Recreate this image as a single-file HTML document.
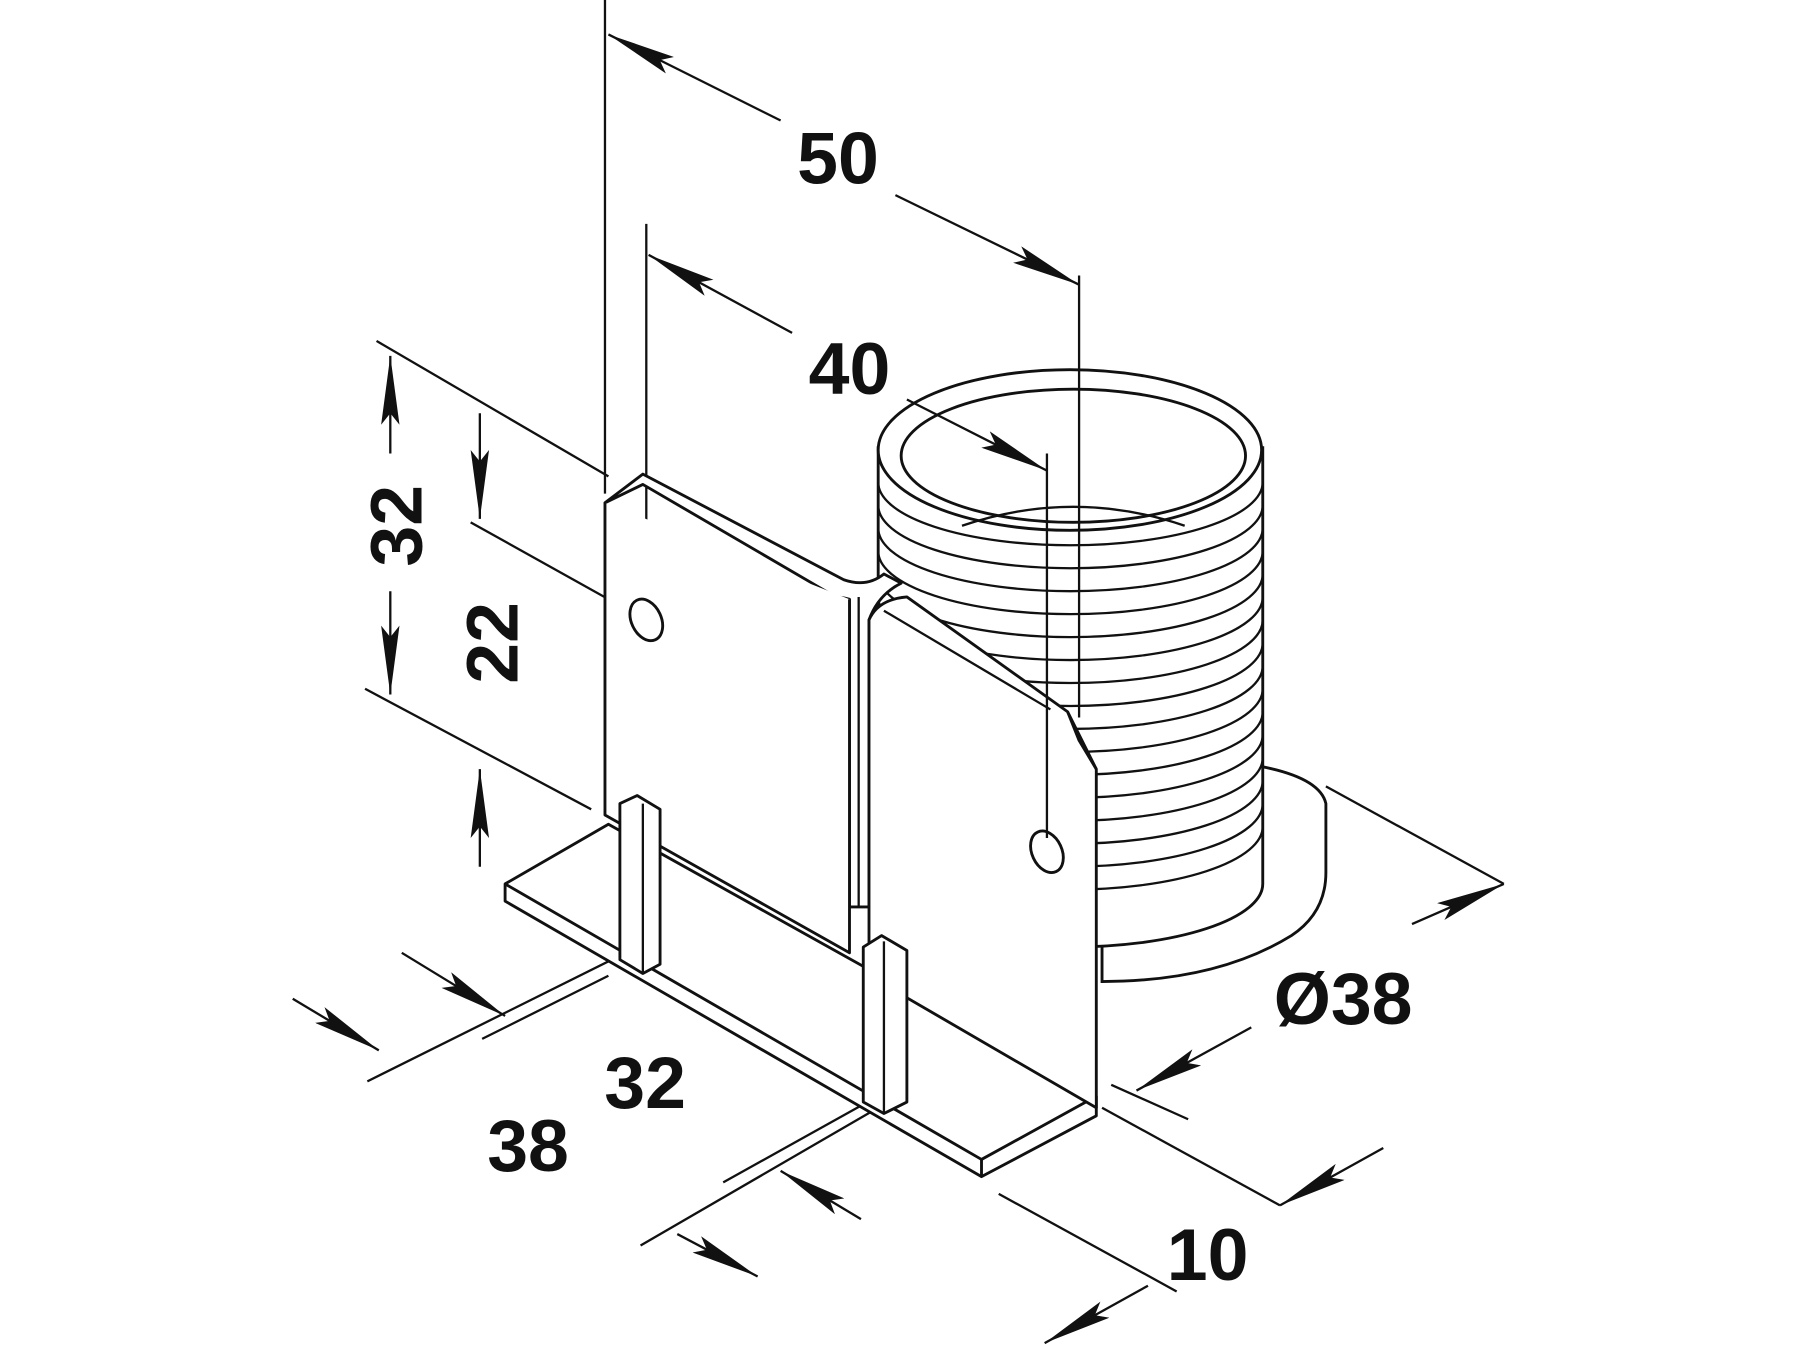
<!DOCTYPE html>
<html><head><meta charset="utf-8"><style>
html,body{margin:0;padding:0;background:#fff;}
svg{display:block;}
text{font-family:"Liberation Sans",sans-serif;font-weight:bold;fill:#111;}
</style></head><body>
<svg width="1800" height="1350" viewBox="0 0 1568 1176" preserveAspectRatio="none" xmlns="http://www.w3.org/2000/svg">
<defs>
<marker id="b" viewBox="0 0 60 16" refX="60" refY="8" markerWidth="60" markerHeight="16" markerUnits="userSpaceOnUse" orient="auto"><path d="M0,0 L60,8 L0,16 L10,8 z" fill="#111"/></marker>
</defs>
<g fill="none" stroke="#111" stroke-width="2">
<line x1="527" y1="0" x2="527" y2="430"/>
<line x1="563" y1="195" x2="563" y2="555"/>
<line x1="328" y1="297" x2="530" y2="415"/>
<line x1="410" y1="455" x2="625" y2="575"/>
<line x1="318" y1="600" x2="515" y2="705"/>
<line x1="1155" y1="685" x2="1310" y2="770"/>
<line x1="968" y1="945" x2="1035" y2="975"/>
<line x1="960" y1="965" x2="1115" y2="1050"/>
<line x1="870" y1="1040" x2="1025" y2="1125"/>
<line x1="320" y1="942" x2="545" y2="830"/>
<line x1="420" y1="905" x2="530" y2="850"/>
<line x1="558" y1="1085" x2="770" y2="962"/>
<line x1="630" y1="1030" x2="752" y2="962"/>
<line x1="680" y1="105" x2="530" y2="30" marker-end="url(#b)"/>
<line x1="780" y1="170" x2="940" y2="248" marker-end="url(#b)"/>
<line x1="690" y1="290" x2="565" y2="222" marker-end="url(#b)"/>
<line x1="340" y1="395" x2="340" y2="310" marker-end="url(#b)"/>
<line x1="340" y1="515" x2="340" y2="605" marker-end="url(#b)"/>
<line x1="418" y1="360" x2="418" y2="452" marker-end="url(#b)"/>
<line x1="418" y1="755" x2="418" y2="670" marker-end="url(#b)"/>
<line x1="1090" y1="895" x2="990" y2="950" marker-end="url(#b)"/>
<line x1="1230" y1="805" x2="1310" y2="770" marker-end="url(#b)"/>
<line x1="1205" y1="1000" x2="1115" y2="1050" marker-end="url(#b)"/>
<line x1="1000" y1="1120" x2="910" y2="1170" marker-end="url(#b)"/>
<line x1="255" y1="870" x2="330" y2="915" marker-end="url(#b)"/>
<line x1="350" y1="830" x2="440" y2="885" marker-end="url(#b)"/>
<line x1="590" y1="1075" x2="660" y2="1112" marker-end="url(#b)"/>
<line x1="750" y1="1062" x2="680" y2="1020" marker-end="url(#b)"/>
</g>
<!-- flange -->
<path d="M960,700 L960,855 Q1060,855 1125,815 Q1155,795 1155,760 L1155,700 Q1150,678 1100,668 Z" fill="#fff" stroke="#111" stroke-width="2.5"/>
<!-- cylinder body -->
<path d="M765,390 L765,770 A167.5,55 0 0 0 1100,770 L1100,390 Z" fill="#fff" stroke="#111" stroke-width="2.5"/>
<g fill="none" stroke="#111" stroke-width="2">
<path d="M765,420 A167.5,55 0 0 0 1100,420"/>
<path d="M765,440 A167.5,55 0 0 0 1100,440"/>
<path d="M765,460 A167.5,55 0 0 0 1100,460"/>
<path d="M765,480 A167.5,55 0 0 0 1100,480"/>
<path d="M765,500 A167.5,55 0 0 0 1100,500"/>
<path d="M765,520 A167.5,55 0 0 0 1100,520"/>
<path d="M765,540 A167.5,55 0 0 0 1100,540"/>
<path d="M765,560 A167.5,55 0 0 0 1100,560"/>
<path d="M765,580 A167.5,55 0 0 0 1100,580"/>
<path d="M765,600 A167.5,55 0 0 0 1100,600"/>
<path d="M765,620 A167.5,55 0 0 0 1100,620"/>
<path d="M765,640 A167.5,55 0 0 0 1100,640"/>
<path d="M765,660 A167.5,55 0 0 0 1100,660"/>
<path d="M765,680 A167.5,55 0 0 0 1100,680"/>
<path d="M765,700 A167.5,55 0 0 0 1100,700"/>
<path d="M765,720 A167.5,55 0 0 0 1100,720"/>
</g>
<g fill="#fff" stroke="#111" stroke-width="2.5">
<ellipse cx="932" cy="392" rx="167" ry="70"/>
<ellipse cx="935" cy="397" rx="150" ry="58"/>
</g>
<path d="M838,458 Q935,425 1032,458" fill="none" stroke="#111" stroke-width="2"/>
<!-- bracket -->
<g fill="#fff" stroke="#111" stroke-width="2.5" stroke-linejoin="round">
<path d="M440,770 L530,718 L955,955 L955,972 L855,1025 L440,785 Z"/>
<path d="M440,770 L855,1010 L955,955" fill="none"/>
<path d="M855,1010 L855,1025" fill="none"/>
<path d="M527,438 L560,413 L735,505 Q755,512 770,500 L785,508 Q765,518 757,540 L757,790 L740,790 L740,522 Q733,520 728,520 L560,422 L527,438 Z"/>
<path d="M527,438 L527,710 L740,830 L740,522"/>
<path d="M757,540 Q765,522 790,520 L930,620 L955,670 L955,965 L757,850 Z"/>
<path d="M930,620 L940,645 L955,670" fill="none"/>
<path d="M540,700 L555,693 L575,705 L575,840 L560,848 L540,836 Z"/>
<path d="M752,825 L768,815 L790,828 L790,960 L770,970 L752,960 Z"/>
<ellipse cx="563" cy="540" rx="13" ry="19" transform="rotate(-25 563 540)"/>
<ellipse cx="912" cy="742" rx="13" ry="19" transform="rotate(-25 912 742)"/>
</g>
<g fill="none" stroke="#111" stroke-width="2">
<line x1="748" y1="520" x2="748" y2="790"/>
<line x1="560" y1="700" x2="560" y2="848"/>
<line x1="770" y1="820" x2="770" y2="970"/>
<line x1="770" y1="532" x2="915" y2="618"/>
<!-- extension lines over cylinder -->
<line x1="940" y1="240" x2="940" y2="625"/>
<line x1="912" y1="395" x2="912" y2="730"/>
<line x1="790" y1="348" x2="912" y2="410" marker-end="url(#b)"/>
</g>
<text x="730" y="160" font-size="64" text-anchor="middle">50</text>
<text x="740" y="343" font-size="64" text-anchor="middle">40</text>
<text x="0" y="0" font-size="64" text-anchor="middle" transform="translate(367,458) rotate(-90)">32</text>
<text x="0" y="0" font-size="64" text-anchor="middle" transform="translate(451,560) rotate(-90)">22</text>
<text x="1170" y="892" font-size="64" text-anchor="middle">Ø38</text>
<text x="1052" y="1115" font-size="64" text-anchor="middle">10</text>
<text x="460" y="1020" font-size="64" text-anchor="middle">38</text>
<text x="562" y="965" font-size="64" text-anchor="middle">32</text>
</svg>
</body></html>
